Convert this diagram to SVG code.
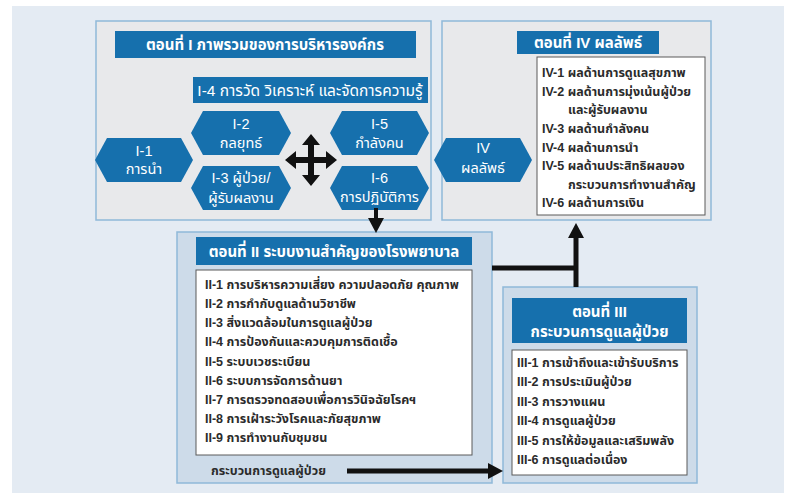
<svg xmlns="http://www.w3.org/2000/svg" width="789" height="500" viewBox="0 0 789 500">
<defs>
<style>
.bg{fill:#e4ebf3}
.pA{fill:#e8e9eb;stroke:#8fb9d9;stroke-width:1.5}
.pB{fill:#cddbe9;stroke:#8fb9d9;stroke-width:1.5}
.bar{fill:#1670ad}
.wbox{fill:#ffffff;stroke:#5a5a5a;stroke-width:1}
.hex{fill:#1670ad}
.t{font-family:"Liberation Sans Narrow","Liberation Sans","Noto Sans Thai","Noto Sans Thai UI","Loma","Garuda","DejaVu Sans",sans-serif}
.tt{font-size:15px;font-weight:bold;fill:#ffffff;text-anchor:middle}
.ht{font-size:14.5px;fill:#ffffff;text-anchor:middle}
.bt{font-size:15.5px;fill:#ffffff;text-anchor:middle}
.it{font-size:12.5px;font-weight:bold;fill:#2b2b2b}
.ln{stroke:#111;fill:none}
</style>
<marker id="ah" viewBox="0 0 16 16" refX="0" refY="8" markerWidth="16" markerHeight="16" markerUnits="userSpaceOnUse" orient="auto">
<path d="M0,0 L15,8 L0,16 Z" fill="#111"/>
</marker>
</defs>
<rect class="bg" x="12" y="6" width="772" height="487"/>

<g id="panel-I">
<rect class="pA" x="96" y="21" width="335" height="199"/>
<rect class="bar" x="115" y="31" width="301" height="27"/>
<text class="t tt" x="265" y="50">ตอนที่ I ภาพรวมของการบริหารองค์กร</text>
</g>
<g id="node-I-4">
<rect class="bar" x="193" y="77" width="235" height="26"/>
<text class="t bt" x="310" y="95.5">I-4 การวัด วิเคราะห์ และจัดการความรู้</text>
</g>
<g id="node-I-1">
<polygon class="hex" points="95,160 107,138 181,138 193,160 181,182 107,182"/>
<text class="t ht" x="144" y="156">I-1</text>
<text class="t ht" x="144" y="174">การนำ</text>
</g>
<g id="node-I-2">
<polygon class="hex" points="191,133 203,111 279,111 291,133 279,155 203,155"/>
<text class="t ht" x="241" y="129">I-2</text>
<text class="t ht" x="241" y="148">กลยุทธ์</text>
</g>
<g id="node-I-3">
<polygon class="hex" points="191,188 203,166 279,166 291,188 279,210 203,210"/>
<text class="t ht" x="241" y="183">I-3 ผู้ป่วย/</text>
<text class="t ht" x="241" y="203">ผู้รับผลงาน</text>
</g>
<g id="node-I-5">
<polygon class="hex" points="330,133 342,111 417,111 429,133 417,155 342,155"/>
<text class="t ht" x="379.5" y="129">I-5</text>
<text class="t ht" x="379.5" y="148">กำลังคน</text>
</g>
<g id="node-I-6">
<polygon class="hex" points="330,188 342,166 417,166 429,188 417,210 342,210"/>
<text class="t ht" x="379.5" y="183">I-6</text>
<text class="t ht" x="379.5" y="202">การปฏิบัติการ</text>
</g>

<g id="panel-IV">
<rect class="pA" x="442" y="21" width="269" height="199"/>
<rect class="bar" x="517" y="31" width="142" height="23"/>
<text class="t tt" x="588" y="48">ตอนที่ IV ผลลัพธ์</text>
<rect class="wbox" x="537" y="57" width="168" height="158"/>
<g class="t it">
<text x="542" y="77">IV-1 ผลด้านการดูแลสุขภาพ</text>
<text x="542" y="96">IV-2 ผลด้านการมุ่งเน้นผู้ป่วย</text>
<text x="568" y="114">และผู้รับผลงาน</text>
<text x="542" y="133">IV-3 ผลด้านกำลังคน</text>
<text x="542" y="152">IV-4 ผลด้านการนำ</text>
<text x="542" y="170">IV-5 ผลด้านประสิทธิผลของ</text>
<text x="568" y="189">กระบวนการทำงานสำคัญ</text>
<text x="542" y="207">IV-6 ผลด้านการเงิน</text>
</g>
</g>
<g id="node-IV">
<polygon class="hex" points="434,160 446,138 520,138 532,160 520,182 446,182"/>
<text class="t ht" x="483" y="153">IV</text>
<text class="t ht" x="483" y="173">ผลลัพธ์</text>
</g>

<g id="panel-II">
<rect class="pB" x="177" y="232" width="315" height="251"/>
<rect class="bar" x="196" y="237" width="276" height="28"/>
<text class="t tt" x="334" y="256.5">ตอนที่ II ระบบงานสำคัญของโรงพยาบาล</text>
<rect class="wbox" x="196" y="270" width="276" height="185"/>
<g class="t it">
<text x="205" y="289">II-1 การบริหารความเสี่ยง ความปลอดภัย คุณภาพ</text>
<text x="205" y="308">II-2 การกำกับดูแลด้านวิชาชีพ</text>
<text x="205" y="327">II-3 สิ่งแวดล้อมในการดูแลผู้ป่วย</text>
<text x="205" y="346">II-4 การป้องกันและควบคุมการติดเชื้อ</text>
<text x="205" y="366">II-5 ระบบเวชระเบียน</text>
<text x="205" y="385">II-6 ระบบการจัดการด้านยา</text>
<text x="205" y="404">II-7 การตรวจทดสอบเพื่อการวินิจฉัยโรคฯ</text>
<text x="205" y="423">II-8 การเฝ้าระวังโรคและภัยสุขภาพ</text>
<text x="205" y="442">II-9 การทำงานกับชุมชน</text>
</g>
<text class="t it" x="211" y="475">กระบวนการดูแลผู้ป่วย</text>
</g>

<g id="panel-III">
<rect class="pB" x="503" y="287" width="194" height="196"/>
<rect class="bar" x="512" y="298" width="175" height="45"/>
<text class="t tt" x="599.5" y="317">ตอนที่ III</text>
<text class="t tt" x="599.5" y="337">กระบวนการดูแลผู้ป่วย</text>
<rect class="wbox" x="512" y="350" width="175" height="125"/>
<g class="t it">
<text x="517" y="367">III-1 การเข้าถึงและเข้ารับบริการ</text>
<text x="517" y="386">III-2 การประเมินผู้ป่วย</text>
<text x="517" y="406">III-3 การวางแผน</text>
<text x="517" y="425">III-4 การดูแลผู้ป่วย</text>
<text x="517" y="445">III-5 การให้ข้อมูลและเสริมพลัง</text>
<text x="517" y="464">III-6 การดูแลต่อเนื่อง</text>
</g>
</g>

<g id="connectors">
<polygon fill="#111" points="311,134 320,145 314,145 314,157 326,157 326,151 337,160 326,169 326,163 314,163 314,175 320,175 311,186 302,175 308,175 308,163 296,163 296,169 285,160 296,151 296,157 308,157 308,145 302,145"/>
<line class="ln" x1="376" y1="208" x2="376" y2="218" stroke-width="4" marker-end="url(#ah)"/>
<polyline class="ln" points="492,268 576,268" stroke-width="5"/>
<line class="ln" x1="576" y1="287" x2="576" y2="238" stroke-width="5" marker-end="url(#ah)"/>
<line class="ln" x1="347" y1="471" x2="488" y2="471" stroke-width="5" marker-end="url(#ah)"/>
</g>
</svg>
